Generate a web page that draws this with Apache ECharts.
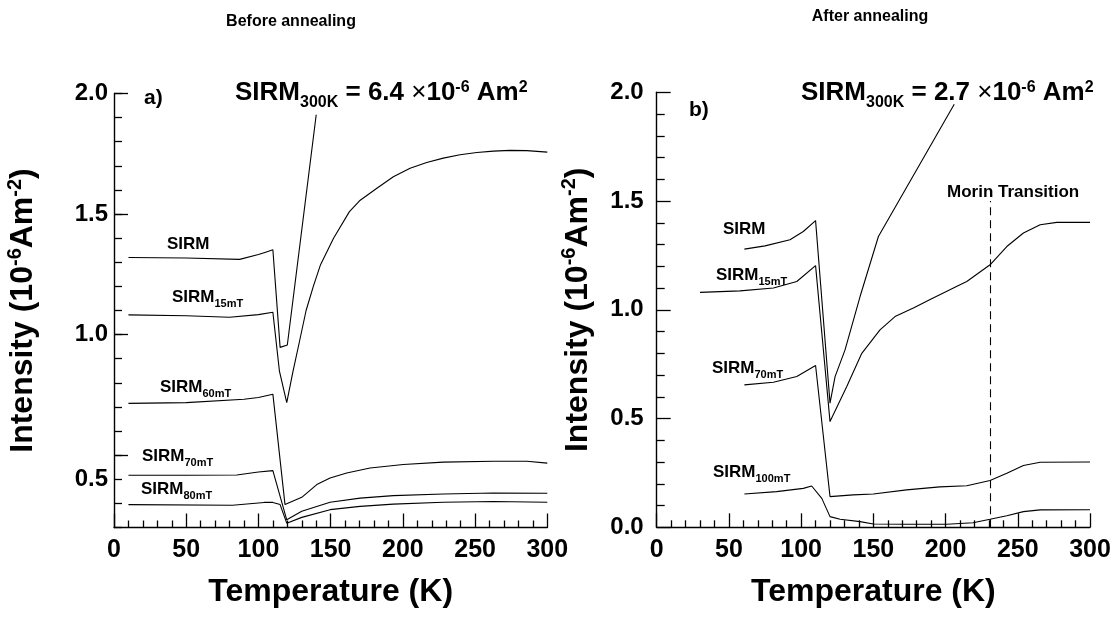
<!DOCTYPE html>
<html>
<head>
<meta charset="utf-8">
<script src="https://cdn.jsdelivr.net/npm/echarts@6/dist/echarts.min.js"></script>
<style>
html,body{margin:0;padding:0;background:#fff;}
#chart{width:1118px;height:619px;}
</style>
</head>
<body>
<div id="chart"></div>
<script>
// ---------- DATA ----------
// Panel a) Before annealing
const a_SIRM_T = [10, 50, 87, 100, 105, 110, 115, 120, 140];
const a_SIRM_V = [1.320, 1.318, 1.312, 1.332, 1.342, 1.352, 0.947, 0.957, 1.912];
const a_15_T = [10, 50, 80, 100, 110, 114.5, 119.6, 124, 128, 133, 138, 143, 152, 163, 170, 182, 193.4, 205, 216.5, 228, 239.6, 251.2, 262.7, 274.2, 285.8, 300];
const a_15_V = [1.082, 1.078, 1.072, 1.083, 1.093, 0.85, 0.718, 0.85, 0.96, 1.10, 1.20, 1.29, 1.40, 1.51, 1.555, 1.607, 1.655, 1.69, 1.714, 1.732, 1.746, 1.755, 1.761, 1.764, 1.763, 1.757];
const a_60_T = [10, 50, 90, 100, 110, 118.4, 130, 140.4, 149.6, 161.1, 177.3, 200.3, 228, 262.7, 285.8, 300];
const a_60_V = [0.715, 0.718, 0.732, 0.739, 0.753, 0.295, 0.325, 0.378, 0.405, 0.426, 0.447, 0.461, 0.471, 0.475, 0.475, 0.467];
const a_70_T = [10, 50, 85, 100, 110, 119.6, 130, 149.6, 170.4, 193.4, 228, 262.7, 300];
const a_70_V = [0.417, 0.417, 0.418, 0.430, 0.436, 0.232, 0.267, 0.305, 0.322, 0.332, 0.339, 0.343, 0.342];
const a_80_T = [10, 82, 104, 110, 115, 119.6, 130, 149.6, 170.4, 193.4, 228, 262.7, 300];
const a_80_V = [0.295, 0.292, 0.304, 0.304, 0.295, 0.218, 0.242, 0.274, 0.2875, 0.297, 0.305, 0.308, 0.305];

// Panel b) After annealing
const b_SIRM_T = [60.7, 75, 92.3, 101.5, 110, 120, 123.5, 130.4, 140.8, 153.5, 206];
const b_SIRM_V = [1.279, 1.294, 1.322, 1.36, 1.41, 0.571, 0.693, 0.816, 1.061, 1.337, 1.945];
const b_15_T = [30, 57.7, 80.8, 97, 110, 120, 131.6, 142, 154.6, 165, 177.7, 190, 210, 214.7, 230.8, 242.4, 253.9, 265.5, 277, 300];
const b_15_V = [1.080, 1.087, 1.10, 1.13, 1.203, 0.486, 0.647, 0.8, 0.908, 0.969, 1.008, 1.05, 1.115, 1.130, 1.207, 1.291, 1.353, 1.391, 1.402, 1.402];
const b_70_T = [60.7, 80.8, 97, 110, 120, 136, 150, 173, 196, 214.7, 230.8, 242.4, 253.9, 265.5, 300];
const b_70_V = [0.655, 0.667, 0.693, 0.744, 0.141, 0.149, 0.153, 0.172, 0.186, 0.191, 0.215, 0.248, 0.284, 0.299, 0.300];
const b_100_T = [60.7, 83, 101.5, 107.3, 114.3, 120, 127, 140.8, 150, 173, 200.8, 219, 230.8, 242.4, 253.9, 265.5, 300];
const b_100_V = [0.153, 0.164, 0.179, 0.190, 0.133, 0.049, 0.037, 0.026, 0.015, 0.014, 0.014, 0.021, 0.037, 0.053, 0.072, 0.080, 0.081];

const morinT = 231;
const morinTop = 1.5;

// Tick labels
const aYLabelValues = [0.4, 1.0, 1.5, 2.0];
const aYLabelTexts = ['0.5', '1.0', '1.5', '2.0'];
const aYMajorTicks = [0.5, 1.0, 1.5, 2.0];
const bYLabelTexts = ['0.0', '0.5', '1.0', '1.5', '2.0'];

// ---------- CHART ----------
const FONT = "'Liberation Sans', Arial, Helvetica, sans-serif";
const chart = echarts.init(document.getElementById('chart'), null, {renderer: 'canvas'});

function pairs(T, V) { return T.map((t, i) => [t, V[i]]); }

function lineSeries(T, V, xi, yi, extra) {
  return Object.assign({
    type: 'line', xAxisIndex: xi, yAxisIndex: yi,
    data: pairs(T, V), showSymbol: false, symbol: 'none', smooth: false,
    lineStyle: {color: '#000', width: 1.1}, silent: true, z: 3
  }, extra || {});
}

const axisLineStyle = {show: true, lineStyle: {color: '#000', width: 1.4}};

function xAxis(gi) {
  return {
    type: 'value', gridIndex: gi, min: 0, max: 300, interval: 50,
    axisLine: axisLineStyle,
    axisTick: {show: true, inside: true, length: 14, lineStyle: {color: '#000', width: 1.3}},
    minorTick: {show: true, splitNumber: 5, length: 7, lineStyle: {color: '#000', width: 1.3}},
    splitLine: {show: false}, minorSplitLine: {show: false},
    axisLabel: {fontSize: 25, fontWeight: 'bold', color: '#000', fontFamily: FONT, margin: 10},
    name: 'Temperature (K)', nameLocation: 'middle', nameGap: 49,
    nameTextStyle: {fontSize: 32, fontWeight: 'bold', color: '#000', fontFamily: FONT}
  };
}

const yName = 'Intensity (10{sup|-6}Am{sup|-2})';
const yNameStyle = {
  fontSize: 32, fontWeight: 'bold', color: '#000', fontFamily: FONT, lineHeight: 42,
  rich: {sup: {fontSize: 20, fontWeight: 'bold', color: '#000', fontFamily: FONT, lineHeight: 20, verticalAlign: 'top', padding: [3, 0, 0, 0]}}
};

const option = {
  animation: false,
  backgroundColor: '#fff',
  grid: [
    {left: 114, top: 93.5, width: 433.3, height: 434},
    {left: 656.7, top: 92.3, width: 433.3, height: 435}
  ],
  xAxis: [xAxis(0), xAxis(1)],
  yAxis: [
    {
      type: 'value', gridIndex: 0, min: 0.2, max: 2.0, interval: 0.1,
      axisLine: axisLineStyle,
      axisTick: {show: true, inside: true, length: 8, lineStyle: {color: '#000', width: 1.3}},
      splitLine: {show: false},
      axisLabel: {
        customValues: aYLabelValues,
        formatter: function (v) {
          for (let i = 0; i < aYLabelValues.length; i++) {
            if (Math.abs(v - aYLabelValues[i]) < 1e-6) return aYLabelTexts[i];
          }
          return '';
        },
        fontSize: 24, fontWeight: 'bold', color: '#000', fontFamily: FONT, margin: 6
      },
      name: yName, nameLocation: 'middle', nameRotate: 90, nameGap: 70,
      nameTextStyle: yNameStyle
    },
    {
      type: 'value', gridIndex: 0, min: 0.2, max: 2.0, position: 'left',
      axisLine: {show: false},
      axisTick: {show: true, inside: true, length: 14, customValues: aYMajorTicks, lineStyle: {color: '#000', width: 1.3}},
      axisLabel: {show: false}, splitLine: {show: false}
    },
    {
      type: 'value', gridIndex: 1, min: 0, max: 2.0, interval: 0.5,
      axisLine: axisLineStyle,
      axisTick: {show: true, inside: true, length: 14, lineStyle: {color: '#000', width: 1.3}},
      minorTick: {show: true, splitNumber: 5, length: 8, lineStyle: {color: '#000', width: 1.3}},
      splitLine: {show: false}, minorSplitLine: {show: false},
      axisLabel: {
        formatter: function (v) { return bYLabelTexts[Math.round(v / 0.5)]; },
        fontSize: 24, fontWeight: 'bold', color: '#000', fontFamily: FONT, margin: 13
      },
      name: yName, nameLocation: 'middle', nameRotate: 90, nameGap: 58,
      nameTextStyle: yNameStyle
    }
  ],
  series: [
    lineSeries(a_SIRM_T, a_SIRM_V, 0, 0),
    lineSeries(a_15_T, a_15_V, 0, 0),
    lineSeries(a_60_T, a_60_V, 0, 0),
    lineSeries(a_70_T, a_70_V, 0, 0),
    lineSeries(a_80_T, a_80_V, 0, 0),
    lineSeries(b_SIRM_T, b_SIRM_V, 1, 2),
    lineSeries(b_15_T, b_15_V, 1, 2),
    lineSeries(b_70_T, b_70_V, 1, 2),
    lineSeries(b_100_T, b_100_V, 1, 2, {
      markLine: {
        silent: true, symbol: 'none', label: {show: false},
        lineStyle: {color: '#000', width: 1.1, type: [8, 5]},
        data: [[{coord: [morinT, 0]}, {coord: [morinT, morinTop]}]]
      }
    })
  ],
  graphic: []
};

// ---------- TEXT ANNOTATIONS ----------
function txt(x, y, text, size, align) {
  return {type: 'text', x: x, y: y, silent: true, z: 10,
    style: {text: text, fill: '#000', font: 'bold ' + size + 'px ' + FONT,
      align: align || 'left', textAlign: align || 'left', verticalAlign: 'middle', textVerticalAlign: 'middle'}};
}
function subLabel(x, y, main, sub) {
  return {type: 'text', x: x, y: y, silent: true, z: 10,
    style: {text: '{m|' + main + '}' + (sub ? '{s|' + sub + '}' : ''), fill: '#000',
      align: 'left', verticalAlign: 'middle', textAlign: 'left', textVerticalAlign: 'middle',
      rich: {
        m: {fontSize: 17, fontWeight: 'bold', fontFamily: FONT, fill: '#000', color: '#000', lineHeight: 24, verticalAlign: 'middle'},
        s: {fontSize: 11, fontWeight: 'bold', fontFamily: FONT, fill: '#000', color: '#000', lineHeight: 11, verticalAlign: 'bottom'}
      }}};
}
function sirm300(x, y, val) {
  return {type: 'text', x: x, y: y, silent: true, z: 10,
    style: {text: '{m|SIRM}{s|300K}{m| = ' + val + ' }{x|×}{m|10}{p|-6}{m| Am}{p|2}', fill: '#000',
      align: 'left', verticalAlign: 'middle', textAlign: 'left', textVerticalAlign: 'middle',
      rich: {
        m: {fontSize: 26, fontWeight: 'bold', fontFamily: FONT, fill: '#000', color: '#000', lineHeight: 35, verticalAlign: 'middle'},
        x: {fontSize: 26, fontWeight: 'normal', fontFamily: FONT, fill: '#000', color: '#000', lineHeight: 35, verticalAlign: 'middle'},
        s: {fontSize: 16, fontWeight: 'bold', fontFamily: FONT, fill: '#000', color: '#000', lineHeight: 16, verticalAlign: 'bottom'},
        p: {fontSize: 16, fontWeight: 'bold', fontFamily: FONT, fill: '#000', color: '#000', lineHeight: 16, verticalAlign: 'top', padding: [4, 0, 0, 0]}
      }}};
}

option.graphic = [
  txt(291, 22, 'Before annealing', 16, 'center'),
  txt(870, 17, 'After annealing', 16, 'center'),
  txt(144, 98, 'a)', 21),
  txt(689, 110, 'b)', 21),
  sirm300(235, 93, '6.4'),
  sirm300(801, 93, '2.7'),
  txt(947, 192, 'Morin Transition', 17),
  subLabel(167, 244, 'SIRM', ''),
  subLabel(172, 297, 'SIRM', '15mT'),
  subLabel(160, 387, 'SIRM', '60mT'),
  subLabel(142, 456, 'SIRM', '70mT'),
  subLabel(141, 489, 'SIRM', '80mT'),
  subLabel(723, 229, 'SIRM', ''),
  subLabel(716, 275, 'SIRM', '15mT'),
  subLabel(712, 368, 'SIRM', '70mT'),
  subLabel(713, 472, 'SIRM', '100mT')
];

chart.setOption(option);
</script>
</body>
</html>
